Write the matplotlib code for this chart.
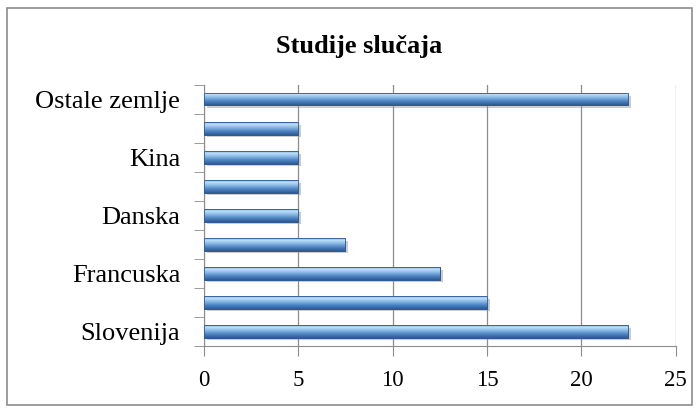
import numpy as np
import matplotlib
matplotlib.use("Agg")
import matplotlib.pyplot as plt
import matplotlib.patheffects as pe
from matplotlib.colors import LinearSegmentedColormap
from matplotlib.patches import Rectangle

# data, bottom to top
categories = ["Slovenija", "", "Francuska", "", "Danska", "", "Kina", "", "Ostale zemlje"]
values = [22.5, 15, 12.5, 7.5, 5, 5, 5, 5, 22.5]
x_ticks = [0, 5, 10, 15, 20, 25]
title = "Studije slučaja"

plt.rcParams['font.family'] = ['Liberation Serif', 'DejaVu Serif']

fig = plt.figure(figsize=(6.98, 4.12), dpi=100)
ax = fig.add_axes([0.292, 0.160, 0.676, 0.634])

# outer chart border
fig.patches.append(Rectangle((0.010, 0.017), 0.981, 0.963, transform=fig.transFigure,
                             fill=False, edgecolor="#8c8c8c", linewidth=1.2))

y = np.arange(len(categories))
bars = ax.barh(y, values, height=0.42, color="#4f81bd", edgecolor="#2c5a92",
               linewidth=0.6, zorder=3,
               path_effects=[pe.SimplePatchShadow(offset=(2, -2), shadow_rgbFace="#9a9a9a", alpha=0.5),
                             pe.Normal()])

# vertical gradient inside each bar (top light, bottom dark)
cmap = LinearSegmentedColormap.from_list("bar", [
    (0.0, "#6f9fd6"), (0.15, "#bfe0f8"), (0.40, "#8bbbe6"),
    (0.70, "#4f83c2"), (1.0, "#2d5b93")])
grad = np.linspace(0, 1, 64).reshape(-1, 1)
for b in bars:
    x0, y0, w, h = b.get_x(), b.get_y(), b.get_width(), b.get_height()
    im = ax.imshow(grad, cmap=cmap, extent=(x0, x0 + w, y0, y0 + h),
                   aspect="auto", origin="upper", zorder=4, interpolation="bilinear")
    im.set_clip_path(b)
    ax.add_patch(Rectangle((x0, y0), w, h, fill=False, edgecolor="#2c5a92",
                           linewidth=0.6, zorder=5))

ax.set_xlim(0, 25)
ax.set_ylim(-0.5, len(categories) - 0.5)
ax.set_xticks(x_ticks)
ax.set_xticklabels([str(t) for t in x_ticks], fontsize=16.5)
ax.set_yticks(y)
ax.set_yticklabels(categories, fontsize=19)
ax.set_yticks(np.arange(len(categories) + 1) - 0.5, minor=True)

ax.tick_params(axis="y", which="major", length=0, pad=17)
ax.tick_params(axis="y", which="minor", length=7, color="#8c8c8c", direction="out")
ax.tick_params(axis="x", length=7, color="#8c8c8c", direction="out", pad=10)

ax.grid(axis="x", color="#8c8c8c", linewidth=0.9, zorder=0)
ax.set_axisbelow(True)
for s in ["top", "right"]:
    ax.spines[s].set_visible(False)
for s in ["left", "bottom"]:
    ax.spines[s].set_color("#8c8c8c")

fig.text(0.515, 0.888, title, ha="center", va="center", fontsize=19, fontweight="bold")

fig.savefig("out.png", dpi=100)
